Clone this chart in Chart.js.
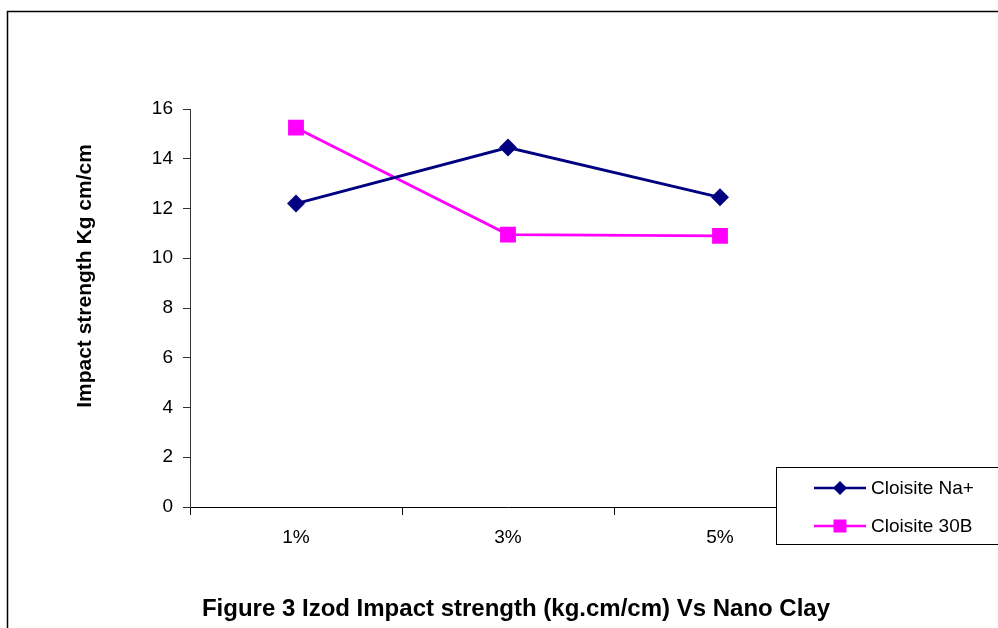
<!DOCTYPE html>
<html>
<head>
<meta charset="utf-8">
<script src="https://cdn.jsdelivr.net/npm/chart.js@4"></script>
<style>
  html, body { margin: 0; padding: 0; background: #fff; }
  canvas { display: block; }
</style>
</head>
<body>
<canvas id="grafico" width="998" height="628"></canvas>
<script>
// Dados
const categorias = ['1%', '3%', '5%'];
const nomesSeries = ['Cloisite Na+', 'Cloisite 30B'];
const valoresNa = [12.2, 14.45, 12.45];
const valores30B = [15.25, 10.95, 10.9];
const yMin = 0;
const yMax = 16;
const yPasso = 2;

const tituloY = 'Impact strength Kg cm/cm';
const tituloFigura = 'Figure 3 Izod Impact strength (kg.cm/cm) Vs Nano Clay';

const fonte = '"Liberation Sans", Arial, sans-serif';
const cores = ['#000080', '#FF00FF'];
const estilos = ['rectRot', 'rect'];

// Desenha um marcador (losango ou quadrado) na legenda
function marcador(ctx, estilo, x, y) {
  ctx.beginPath();
  if (estilo === 'rectRot') {
    ctx.moveTo(x, y - 7);
    ctx.lineTo(x + 7, y);
    ctx.lineTo(x, y + 7);
    ctx.lineTo(x - 7, y);
    ctx.closePath();
  } else {
    ctx.rect(x - 6.5, y - 6.5, 13, 13);
  }
  ctx.fill();
}

// Plugin: fundo, moldura, títulos e legenda
const extras = {
  id: 'extras',
  beforeDraw(chart) {
    const ctx = chart.ctx;
    ctx.save();
    ctx.fillStyle = '#fff';
    ctx.fillRect(0, 0, chart.width, chart.height);
    ctx.restore();
  },
  afterDraw(chart) {
    const ctx = chart.ctx;
    ctx.save();

    // moldura externa
    ctx.strokeStyle = '#000';
    ctx.lineWidth = 1.5;
    ctx.strokeRect(7.5, 11.5, 1100, 700);

    // título do eixo Y
    ctx.save();
    ctx.translate(85, 276);
    ctx.rotate(-Math.PI / 2);
    ctx.fillStyle = '#000';
    ctx.font = 'bold 21px ' + fonte;
    ctx.textAlign = 'center';
    ctx.textBaseline = 'middle';
    ctx.fillText(tituloY, 0, 0);
    ctx.restore();

    // título da figura
    ctx.fillStyle = '#000';
    ctx.font = 'bold 24px ' + fonte;
    ctx.textAlign = 'center';
    ctx.textBaseline = 'middle';
    ctx.fillText(tituloFigura, 516, 609);

    // legenda
    ctx.fillStyle = '#fff';
    ctx.fillRect(776.5, 467.5, 300, 77);
    ctx.strokeStyle = '#000';
    ctx.lineWidth = 1;
    ctx.strokeRect(776.5, 467.5, 300, 77);

    chart.data.datasets.forEach((ds, i) => {
      const y = 488 + i * 38;
      ctx.strokeStyle = ds.borderColor;
      ctx.lineWidth = 2.5;
      ctx.beginPath();
      ctx.moveTo(814, y);
      ctx.lineTo(866, y);
      ctx.stroke();
      ctx.fillStyle = ds.backgroundColor;
      marcador(ctx, ds.pointStyle, 840, y);
      ctx.fillStyle = '#000';
      ctx.font = '19px ' + fonte;
      ctx.textAlign = 'left';
      ctx.textBaseline = 'middle';
      ctx.fillText(ds.label, 871, y + 1);
    });

    ctx.restore();
  }
};

const ctx = document.getElementById('grafico').getContext('2d');

const grafico = new Chart(ctx, {
  type: 'line',
  data: {
    labels: categorias,
    datasets: [
      {
        label: nomesSeries[0],
        data: valoresNa,
        borderColor: cores[0],
        backgroundColor: cores[0],
        borderWidth: 2.8,
        pointStyle: estilos[0],
        pointRadius: 7,
        pointHoverRadius: 7,
        tension: 0,
        fill: false
      },
      {
        label: nomesSeries[1],
        data: valores30B,
        borderColor: cores[1],
        backgroundColor: cores[1],
        borderWidth: 2.8,
        pointStyle: estilos[1],
        pointRadius: 9.2,
        pointHoverRadius: 9.2,
        tension: 0,
        fill: false
      }
    ]
  },
  options: {
    responsive: false,
    animation: false,
    devicePixelRatio: 1,
    layout: {
      padding: { left: 69, right: 172, top: 109, bottom: 33 }
    },
    plugins: {
      legend: { display: false },
      title: { display: false },
      tooltip: { enabled: false }
    },
    scales: {
      x: {
        offset: true,
        grid: {
          offset: true,
          drawOnChartArea: false,
          drawTicks: true,
          tickLength: 8,
          color: '#000'
        },
        border: { color: '#000', width: 1 },
        ticks: {
          color: '#000',
          padding: 11,
          font: { family: fonte, size: 19 }
        },
        afterFit(scale) {
          scale.height = 88;
        }
      },
      y: {
        min: yMin,
        max: yMax,
        grid: {
          drawOnChartArea: false,
          drawTicks: true,
          tickLength: 7,
          color: '#333'
        },
        border: { color: '#333', width: 1 },
        ticks: {
          stepSize: yPasso,
          color: '#000',
          padding: 10,
          font: { family: fonte, size: 19 }
        },
        afterFit(scale) {
          scale.width = 121;
        }
      }
    }
  },
  plugins: [extras]
});
</script>
</body>
</html>
